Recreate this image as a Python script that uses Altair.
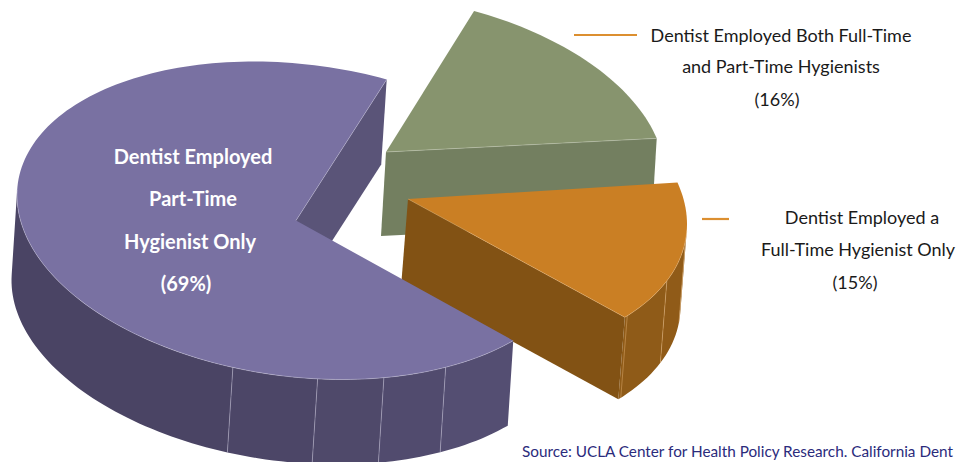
import math
import altair as alt

# ---- values
SEGMENTS = ["Dentist Employed Part-Time Hygienist Only",
            "Dentist Employed Both Full-Time and Part-Time Hygienists",
            "Dentist Employed a Full-Time Hygienist Only"]
SHARES = [69, 16, 15]

# ---- layout / style
STARTS = [40.0, 288.4, 345.0]     # where each slice's sweep begins, degrees
OFF = 8                           # page margin
XY, YY = 25.1, 157.0              # tilted ellipse of the pie
XXS = [281.0, 279.0, 279.0]
RIM_DX = [2.0, 0.0, 0.0]
CENTRES = [(296, 220.5), (386, 152), (408, 199)]
DEPTHS = [(-5.5, 85), (-5, 84), (-6.5, 82)]
TOPS = ["#7971a2", "#87946e", "#ca7f24"]
CUTS = ["#5a5478", "#737f60", "#825214"]
RIMS = ["#c5c1da", "#c9cfba", "#e8b67a"]
# outer-wall bands: (from deg, to deg, colour), by slice; they stop where the wall turns out of sight
WALLS = [
    [(40, 58.3, "#544e72"), (58.3, 72.2, "#514b6e"), (72.2, 86, "#4f496a"),
     (86, 103.4, "#4c4667"), (103.4, 182.06, "#4a4464")],
    [],
    [(362.5, 366, "#8d5a18"), (366, 381.9, "#905b18"), (381.9, 399, "#8f5b18")],
]
SEAMS = [[58.3, 72.2, 86, 103.4], [], [366, 381.9, 398.2]]


def px(x):
    return round(x - OFF, 2)


def pt(i, deg, shift=False):
    a = math.radians(deg)
    u, v = math.cos(a), math.sin(a)
    cx, cy = CENTRES[i]
    x = cx + RIM_DX[i] + XXS[i] * u
    y = cy + XY * u + YY * v - OFF
    if shift:
        x += DEPTHS[i][0]
        y += DEPTHS[i][1]
    return [px(x), round(y, 2)]


def arc(i, a0, a1, shift=False):
    n = max(2, int(abs(a1 - a0) / 1.5))
    return [pt(i, a0 + (a1 - a0) * k / n, shift) for k in range(n + 1)]


def poly(coords, fill):
    return {"type": "Feature", "properties": {"fill": fill},
            "geometry": {"type": "Polygon", "coordinates": [coords + [coords[0]]]}}


def line(coords, col):
    return {"type": "Feature", "properties": {"fill": col},
            "geometry": {"type": "LineString", "coordinates": coords}}


spans = [(st, st + v * 3.6) for st, v in zip(STARTS, SHARES)]

layers = []
PROJ = dict(type="identity", scale=1, translate=[0, 0])
for i in [1, 2, 0]:          # painter's order: back to front
    a0, a1 = spans[i]
    c = [px(CENTRES[i][0]), CENTRES[i][1] - OFF]
    sh = [px(CENTRES[i][0] + DEPTHS[i][0]), c[1] + DEPTHS[i][1]]
    fills = []
    for b0, b1, col in WALLS[i]:
        fills.append(poly(arc(i, b0, b1) + arc(i, b1, b0, True), col))
    # the cut face that looks at the viewer
    p, q = pt(i, a1), pt(i, a1, True)
    fills.append(poly([c, p, q, sh], CUTS[i]))
    fills.append(poly([c] + arc(i, a0, a1), TOPS[i]))

    rims = [line([c, p], RIMS[i])]
    if i == 0:
        rims.append(line(arc(i, a0, 182), RIMS[i]))
    if i == 2:
        rims.append(line(arc(i, 362.5, a1), RIMS[i]))
    for d in SEAMS[i]:
        rims.append(line([pt(i, d), pt(i, d, True)], RIMS[i]))

    layers.append(alt.Chart(alt.Data(values=fills)).mark_geoshape(strokeWidth=0).encode(
        color=alt.Color("properties.fill:N", scale=None)).project(**PROJ))
    layers.append(alt.Chart(alt.Data(values=rims)).mark_geoshape(filled=False, strokeWidth=0.7, opacity=0.65).encode(
        stroke=alt.Stroke("properties.fill:N", scale=None)).project(**PROJ))

FONT = "Lato"
TEXTS = [
    ("Dentist Employed", 193, 158, 20, "#ffffff", "bold"),
    ("Part-Time", 193, 200, 20, "#ffffff", "bold"),
    ("Hygienist Only", 190, 243, 20, "#ffffff", "bold"),
    ("(69%)", 186, 285, 20, "#ffffff", "bold"),
    ("Dentist Employed Both Full-Time", 781, 37, 18, "#1a1a1a", "normal"),
    ("and Part-Time Hygienists", 781, 68, 18, "#1a1a1a", "normal"),
    ("(16%)", 777, 101, 18, "#1a1a1a", "normal"),
    ("Dentist Employed a", 862, 219, 18, "#1a1a1a", "normal"),
    ("Full-Time Hygienist Only", 858, 251, 18, "#1a1a1a", "normal"),
    ("(15%)", 855, 284, 18, "#1a1a1a", "normal"),
]
base = alt.Chart(alt.Data(values=[{"a": 1}]))
for t, x, y, fs, col, wt in TEXTS:
    layers.append(base.mark_text(text=t, font=FONT, fontSize=fs, color=col, fontWeight=wt,
                                 align="center", baseline="middle").encode(
        x=alt.value(px(x)), y=alt.value(y - OFF)))
layers.append(base.mark_text(text="Source: UCLA Center for Health Policy Research. California Dent",
                             font=FONT, fontSize=15.3, color="#2b2b7c", align="left", baseline="middle").encode(
    x=alt.value(px(522)), y=alt.value(452 - OFF)))
for x0, x1, y in [(574, 637, 35), (702, 729, 219)]:
    layers.append(base.mark_rule(color="#dc8f30", strokeWidth=2.2).encode(
        x=alt.value(px(x0)), x2=alt.value(px(x1)), y=alt.value(y - OFF)))

chart = alt.layer(*layers).properties(
    width=949, height=454, padding=0, autosize=alt.AutoSizeParams(type="none")
).configure_view(stroke=None)
chart.save("out.html", embed_options={"renderer": "svg", "actions": False})
